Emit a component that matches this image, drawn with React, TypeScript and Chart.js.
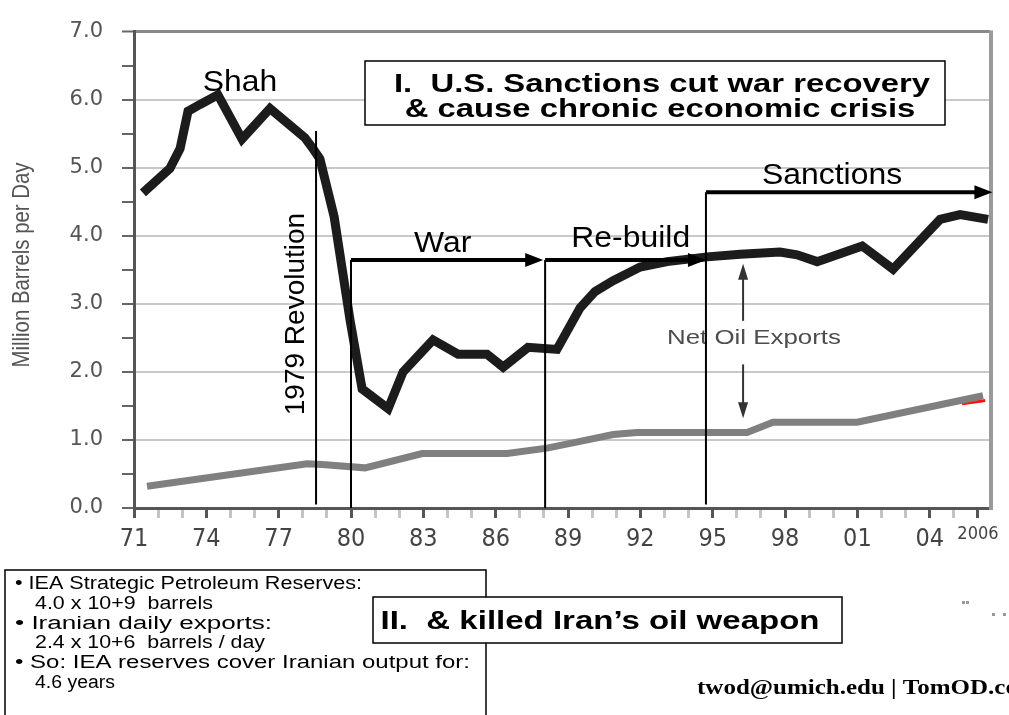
import React, { useEffect, useRef } from 'react';
import { Chart, registerables } from 'chart.js';

Chart.register(...registerables);

const W = 1009;
const H = 715;
const PLOT_LEFT = 134;
const PLOT_TOP = 25;
const PLOT_RIGHT = 990;
const PLOT_BOTTOM = 508;

// Iranian oil production (million barrels per day) – black line
const productionYears = [1971.37, 1972.49, 1972.91, 1973.24, 1973.74, 1974.48, 1975.48, 1976.64, 1978.09, 1978.42, 1978.71, 1979.3, 1979.96, 1980.46, 1981.54, 1982.16, 1983.4, 1984.44, 1985.64, 1986.31, 1987.34, 1988.54, 1989.5, 1990.12, 1990.87, 1991.99, 1993.11, 1994.77, 1996.14, 1997.79, 1998.5, 1999.33, 2001.2, 2002.48, 2004.43, 2005.26, 2006.42];
const productionValues = [4.63, 4.99, 5.28, 5.83, 5.93, 6.07, 5.42, 5.87, 5.44, 5.28, 5.13, 4.28, 2.76, 1.75, 1.46, 2.0, 2.47, 2.26, 2.26, 2.07, 2.36, 2.33, 2.94, 3.18, 3.34, 3.54, 3.62, 3.69, 3.73, 3.76, 3.72, 3.62, 3.85, 3.51, 4.24, 4.31, 4.24];

// Domestic consumption – grey line
const consumptionYears = [1971.54, 1978.18, 1978.8, 1980.58, 1982.95, 1986.47, 1988.13, 1989.5, 1990.87, 1991.86, 1996.42, 1997.5, 2000.99, 2006.21];
const consumptionValues = [0.32, 0.65, 0.64, 0.59, 0.8, 0.8, 0.88, 0.98, 1.08, 1.11, 1.11, 1.26, 1.26, 1.65];

// small red remnant under the grey line end
const redYears = [2005.34, 2006.3];
const redValues = [1.53, 1.58];

// axis
const X_MIN = 1971;
const X_MAX = 2006.5;
const Y_MIN = 0;
const Y_MAX = 7;
const LAST_YEAR_LABEL = 2006;

// annotations (years / values)
const revolutionYear = 1978.55;
const revolutionTop = 5.54;
const warSpan = [1980.0, 1987.97];
const rebuildSpan = [1988.05, 1994.72];
const sanctionsSpan = [1994.72, 2006.6];
const phaseArrowLevel = 3.645;
const sanctionsArrowLevel = 4.64;
const netExportsYear = 1996.26;
const netExportsArrowUp = [2.75, 3.59];
const netExportsArrowDown = [2.11, 1.32];

const boxOneLines = ['I.  U.S. Sanctions cut war recovery', '& cause chronic economic crisis'];
const boxTwoText = 'II.  & killed Iran\u2019s oil weapon';
const notesLines = [
  '\u2022 IEA Strategic Petroleum Reserves:',
  '4.0 x 10+9  barrels',
  '\u2022 Iranian daily exports:',
  '2.4 x 10+6  barrels / day',
  '\u2022 So: IEA reserves cover Iranian output for:',
  '4.6 years',
];
const notesIndented = [false, true, false, true, false, true];
const footerText = 'twod@umich.edu | TomOD.com';

type TOpts = { align?: CanvasTextAlign; sx?: number; rot?: number; baseline?: CanvasTextBaseline; width?: number };

function drawText(ctx: CanvasRenderingContext2D, s: string, x: number, y: number, font: string, color: string, o: TOpts = {}) {
  ctx.save();
  ctx.font = font;
  ctx.fillStyle = color;
  ctx.textAlign = o.align || 'left';
  ctx.textBaseline = o.baseline || 'alphabetic';
  ctx.translate(x, y);
  if (o.rot) ctx.rotate(o.rot);
  let sx = o.sx || 1;
  if (o.width) sx = o.width / ctx.measureText(s).width;
  ctx.scale(sx, 1);
  ctx.fillText(s, 0, 0);
  ctx.restore();
}

function line(ctx: CanvasRenderingContext2D, x1: number, y1: number, x2: number, y2: number, color: string, w: number) {
  ctx.save();
  ctx.strokeStyle = color;
  ctx.lineWidth = w;
  ctx.beginPath();
  ctx.moveTo(x1, y1);
  ctx.lineTo(x2, y2);
  ctx.stroke();
  ctx.restore();
}

function hArrow(ctx: CanvasRenderingContext2D, x1: number, x2: number, y: number, lw: number, hl: number, hw: number, color: string) {
  line(ctx, x1, y, x2 - hl + 1, y, color, lw);
  ctx.save();
  ctx.fillStyle = color;
  ctx.beginPath();
  ctx.moveTo(x2, y);
  ctx.lineTo(x2 - hl, y - hw);
  ctx.lineTo(x2 - hl, y + hw);
  ctx.closePath();
  ctx.fill();
  ctx.restore();
}

function vArrow(ctx: CanvasRenderingContext2D, x: number, y1: number, y2: number, lw: number, hl: number, hw: number, color: string) {
  const dir = y2 > y1 ? 1 : -1;
  line(ctx, x, y1, x, y2 - dir * (hl - 1), color, lw);
  ctx.save();
  ctx.fillStyle = color;
  ctx.beginPath();
  ctx.moveTo(x, y2);
  ctx.lineTo(x - hw, y2 - dir * hl);
  ctx.lineTo(x + hw, y2 - dir * hl);
  ctx.closePath();
  ctx.fill();
  ctx.restore();
}

const annotationPlugin = {
  id: 'slideAnnotations',
  afterDraw(chart: any) {
    const ctx: CanvasRenderingContext2D = chart.ctx;
    const xs = chart.scales.x;
    const ys = chart.scales.y;
    const px = (v: number) => xs.getPixelForValue(v);
    const py = (v: number) => ys.getPixelForValue(v);
    const area = chart.chartArea;
    const sans = "'Liberation Sans', Arial, sans-serif";

    // right frame
    line(ctx, area.right + 1, area.top - 1, area.right + 1, area.bottom + 2, '#9a9a9a', 4);

    // y axis title
    drawText(ctx, 'Million Barrels per Day', 22, 265, `24px ${sans}`, '#555', { align: 'center', baseline: 'middle', rot: -Math.PI / 2, width: 205 });

    // Net oil exports label + double arrow
    drawText(ctx, 'Net Oil Exports', 754, 344, `20px ${sans}`, '#4d4d4d', { align: 'center', width: 174 });
    vArrow(ctx, px(netExportsYear), py(netExportsArrowUp[0]), py(netExportsArrowUp[1]), 2, 16, 5, '#333');
    vArrow(ctx, px(netExportsYear), py(netExportsArrowDown[0]), py(netExportsArrowDown[1]), 2, 16, 5, '#333');

    // revolution line
    line(ctx, px(revolutionYear), py(revolutionTop), px(revolutionYear), py(0.05), '#000', 2);
    // phase lines
    line(ctx, px(warSpan[0]), py(phaseArrowLevel), px(warSpan[0]), py(0), '#000', 2);
    line(ctx, px(rebuildSpan[0]), py(phaseArrowLevel), px(rebuildSpan[0]), py(0), '#000', 2);
    line(ctx, px(sanctionsSpan[0]), py(sanctionsArrowLevel), px(sanctionsSpan[0]), py(0.05), '#000', 2);
    // arrows
    hArrow(ctx, px(warSpan[0]), px(warSpan[1]), py(phaseArrowLevel), 4, 18, 7, '#000');
    hArrow(ctx, px(rebuildSpan[0]), px(rebuildSpan[1]), py(phaseArrowLevel), 4, 18, 7, '#000');
    hArrow(ctx, px(sanctionsSpan[0]), px(sanctionsSpan[1]), py(sanctionsArrowLevel), 4, 18, 7, '#000');

    // phase labels
    const lab = `29px ${sans}`;
    drawText(ctx, 'Shah', px(1975.4), py(6.13), lab, '#000', { align: 'center', sx: 1.1 });
    drawText(ctx, 'War', px(1983.8), py(3.76), lab, '#000', { align: 'center', sx: 1.1 });
    drawText(ctx, 'Re-build', px(1991.6), py(3.83), lab, '#000', { align: 'center', sx: 1.1 });
    drawText(ctx, 'Sanctions', px(1999.95), py(4.76), lab, '#000', { align: 'center', sx: 1.1 });
    drawText(ctx, '1979 Revolution', px(1977.72), py(2.85), `28px ${sans}`, '#000', { align: 'center', baseline: 'middle', rot: -Math.PI / 2 });

    // Box I
    ctx.save();
    ctx.fillStyle = '#fff';
    ctx.fillRect(365, 61, 580, 64);
    ctx.strokeStyle = '#000';
    ctx.lineWidth = 1.5;
    ctx.strokeRect(365, 61, 580, 64);
    ctx.restore();
    const boldFont = `bold 25px ${sans}`;
    ctx.save();
    ctx.font = boldFont;
    const s1 = 536 / ctx.measureText(boxOneLines[0]).width;
    ctx.restore();
    drawText(ctx, boxOneLines[0], 662, 92, boldFont, '#000', { align: 'center', sx: s1 });
    drawText(ctx, boxOneLines[1], 660, 117, boldFont, '#000', { align: 'center', sx: s1 });

    // notes box (left bottom)
    ctx.save();
    ctx.strokeStyle = '#000';
    ctx.lineWidth = 1.5;
    ctx.beginPath();
    ctx.moveTo(5, H + 2);
    ctx.lineTo(5, 570);
    ctx.lineTo(486, 570);
    ctx.lineTo(486, H + 2);
    ctx.stroke();
    ctx.restore();
    const noteFont = `18px ${sans}`;
    const noteWidths = [347, 178, 257, 230, 455, 80];
    notesLines.forEach((s, i) => {
      drawText(ctx, s, notesIndented[i] ? 35 : 15, 589 + i * 19.8, noteFont, '#000', { width: noteWidths[i] });
    });

    // Box II
    ctx.save();
    ctx.fillStyle = '#fff';
    ctx.fillRect(373, 597, 469, 46);
    ctx.strokeStyle = '#000';
    ctx.lineWidth = 1.5;
    ctx.strokeRect(373, 597, 469, 46);
    ctx.restore();
    drawText(ctx, boxTwoText, 600, 629, `bold 26px ${sans}`, '#000', { align: 'center', width: 439 });

    // footer
    drawText(ctx, footerText, 697, 694, "bold 20px 'Liberation Serif', 'Times New Roman', serif", '#000', { sx: 1.25 });

    // stray marks
    ctx.save();
    ctx.fillStyle = '#999';
    ctx.fillRect(962, 601, 3, 3);
    ctx.fillRect(966, 601, 3, 3);
    ctx.fillRect(992, 613, 3, 3);
    ctx.fillRect(1003, 613, 3, 3);
    ctx.restore();
  },
};

export default function App() {
  const canvasRef = useRef<HTMLCanvasElement | null>(null);

  useEffect(() => {
    document.body.style.margin = '0';
    const canvas = canvasRef.current;
    if (!canvas) return;
    const toPoints = (xs: number[], ys: number[]) => xs.map((x, i) => ({ x, y: ys[i] }));
    const chart = new Chart(canvas, {
      type: 'line',
      data: {
        datasets: [
          {
            label: 'Production',
            data: toPoints(productionYears, productionValues),
            borderColor: '#1c1c1c',
            borderWidth: 9,
            pointRadius: 0,
            tension: 0,
            borderJoinStyle: 'miter',
          },
          {
            label: 'Consumption',
            data: toPoints(consumptionYears, consumptionValues),
            borderColor: '#808080',
            borderWidth: 7,
            pointRadius: 0,
            tension: 0,
          },
          {
            label: 'Red',
            data: toPoints(redYears, redValues),
            borderColor: '#ff1010',
            borderWidth: 3,
            pointRadius: 0,
            tension: 0,
          },
        ],
      },
      options: {
        animation: false,
        responsive: false,
        maintainAspectRatio: false,
        devicePixelRatio: 1,
        layout: { padding: { left: 0, top: PLOT_TOP, right: W - PLOT_RIGHT, bottom: 0 } },
        plugins: { legend: { display: false }, tooltip: { enabled: false }, title: { display: false } },
        scales: {
          x: {
            type: 'linear',
            min: X_MIN,
            max: X_MAX,
            afterFit: (s: any) => { s.height = H - PLOT_BOTTOM; },
            grid: {
              drawOnChartArea: false,
              drawTicks: true,
              tickLength: 10,
              tickWidth: 3,
              tickColor: (c: any) => {
                const v = Math.round(c.tick.value);
                return (v - 1971) % 3 === 0 || v === LAST_YEAR_LABEL ? '#555' : '#c4c4c4';
              },
            },
            border: { display: true, color: '#555', width: 3 },
            ticks: {
              stepSize: 1,
              autoSkip: false,
              maxRotation: 0,
              minRotation: 0,
              includeBounds: false,
              padding: 6,
              color: '#444',
              font: (c: any) => (c.tick && Math.round(c.tick.value) === LAST_YEAR_LABEL
                ? { family: "'DejaVu Sans Condensed', 'DejaVu Sans', sans-serif", size: 18 }
                : { family: "'DejaVu Sans Condensed', 'DejaVu Sans', sans-serif", size: 25 }),
              callback: (val: any) => {
                const v = Math.round(Number(val));
                if (v === LAST_YEAR_LABEL) return String(v);
                if ((v - 1971) % 3 === 0) return String(v % 100).padStart(2, '0');
                return '';
              },
            },
          },
          y: {
            type: 'linear',
            min: Y_MIN,
            max: Y_MAX,
            afterFit: (s: any) => { s.width = PLOT_LEFT; },
            grid: {
              color: (c: any) => {
                const v = c.tick.value;
                if (Math.abs(v - Math.round(v)) > 1e-6) return 'rgba(0,0,0,0)';
                return v === Y_MAX ? '#8a8a8a' : '#c9c9c9';
              },
              lineWidth: (c: any) => (c.tick.value === Y_MAX ? 3 : 2),
              tickColor: '#666',
              tickWidth: 2,
              tickLength: 12,
              drawTicks: true,
            },
            border: { display: true, color: '#555', width: 3 },
            ticks: {
              stepSize: 0.5,
              padding: 19,
              color: '#555',
              font: { family: "'DejaVu Sans', sans-serif", size: 21 },
              callback: (val: any) => {
                const v = Number(val);
                return Math.abs(v - Math.round(v)) < 1e-6 ? v.toFixed(1) : '';
              },
            },
          },
        },
      },
      plugins: [annotationPlugin],
    } as any);
    return () => chart.destroy();
  }, []);

  return (
    <div style={{ position: 'absolute', left: 0, top: 0, width: W, height: H, background: '#fff', overflow: 'hidden' }}>
      <canvas ref={canvasRef} width={W} height={H} style={{ display: 'block', width: W, height: H }} />
    </div>
  );
}
